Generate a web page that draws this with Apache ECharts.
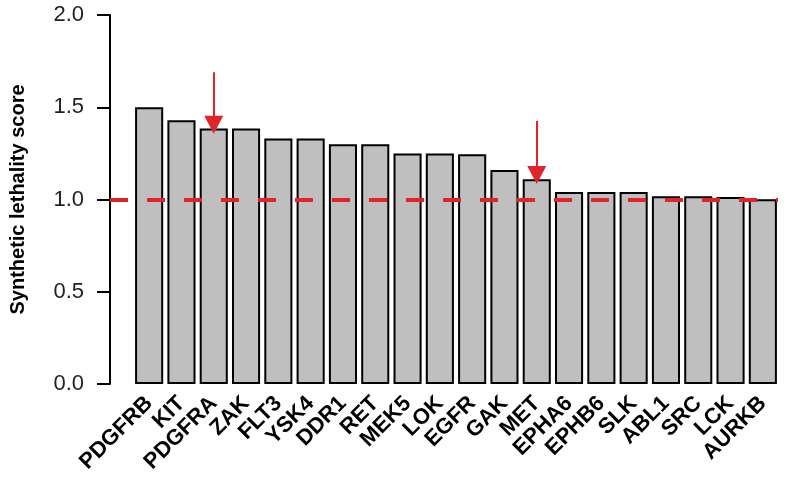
<!DOCTYPE html>
<html>
<head>
<meta charset="utf-8">
<script src="https://cdn.jsdelivr.net/npm/echarts@6/dist/echarts.min.js"></script>
<style>
  html, body { margin: 0; padding: 0; background: #fff; }
  #graph { width: 787px; height: 487px; }
</style>
</head>
<body>
<div id="graph"></div>
<script>
var genes = ['PDGFRB', 'KIT', 'PDGFRA', 'ZAK', 'FLT3', 'YSK4', 'DDR1', 'RET', 'MEK5', 'LOK',
             'EGFR', 'GAK', 'MET', 'EPHA6', 'EPHB6', 'SLK', 'ABL1', 'SRC', 'LCK', 'AURKB'];
var scores = [1.50, 1.43, 1.385, 1.385, 1.33, 1.33, 1.30, 1.30, 1.25, 1.25,
              1.245, 1.16, 1.11, 1.04, 1.04, 1.04, 1.017, 1.017, 1.014, 1.002];
var threshold = 1.0;
// highlighted genes: arrow start and tip (score units)
var arrowGenes = ['PDGFRA', 'MET'];
var arrowFrom = [1.69, 1.425];
var arrowTo = [1.405, 1.133];

var dom = document.getElementById('graph');
var chart = echarts.init(dom);

var arrows = arrowGenes.map(function (g, i) {
    return [
        { coord: [g, arrowFrom[i]] },
        { coord: [g, arrowTo[i]] }
    ];
});

chart.setOption({
    animation: false,
    textStyle: { fontFamily: 'Liberation Sans, Arial, sans-serif' },
    grid: { left: 131, right: 8, top: 15, bottom: 103 },
    xAxis: {
        type: 'category',
        data: genes,
        axisLine: { show: false },
        axisTick: { show: false },
        axisLabel: {
            rotate: 45,
            interval: 0,
            margin: 16,
            fontSize: 22,
            fontWeight: 'bold',
            color: '#000'
        }
    },
    yAxis: {
        type: 'value',
        min: 0,
        max: 2,
        interval: 0.5,
        offset: 23,
        name: 'Synthetic lethality score',
        nameLocation: 'middle',
        nameGap: 82,
        nameTextStyle: { fontSize: 20, fontWeight: 'bold', color: '#000' },
        axisLine: { show: true, lineStyle: { color: '#000', width: 2 } },
        axisTick: { show: true, inside: false, length: 13, lineStyle: { color: '#000', width: 2 } },
        splitLine: { show: false },
        axisLabel: {
            margin: 26,
            fontSize: 22,
            color: '#222',
            formatter: function (v) { return v.toFixed(1); }
        }
    },
    series: [
        {
            type: 'bar',
            data: scores,
            barCategoryGap: '13%',
            itemStyle: { color: '#bfbfbf', borderColor: '#000', borderWidth: 2 },
            markLine: {
                silent: true,
                symbol: 'none',
                label: { show: false },
                lineStyle: { color: '#e0242a', type: [18, 19], width: 4 },
                data: [[{ x: 110, yAxis: threshold }, { x: 778, yAxis: threshold }]]
            }
        },
        {
            type: 'line',
            data: [],
            markLine: {
                silent: true,
                symbol: ['none', 'triangle'],
                symbolSize: [19, 18],
                label: { show: false },
                lineStyle: { color: '#e0242a', type: 'solid', width: 2 },
                itemStyle: { color: '#e0242a' },
                data: arrows
            }
        }
    ]
});
</script>
</body>
</html>
